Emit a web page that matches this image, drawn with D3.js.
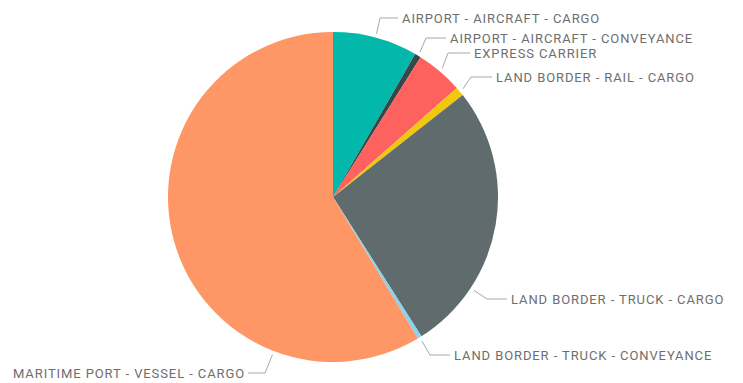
<!DOCTYPE html>
<html>
<head>
<meta charset="utf-8">
<script src="https://cdn.jsdelivr.net/npm/d3@7"></script>
<style>
  html, body { margin: 0; padding: 0; background: #fff; }
  svg { display: block; }
  .lbl { font-family: Roboto, "Noto Sans", sans-serif; font-size: 13px; letter-spacing: 0.9px; fill: #6e6e6e; }
</style>
</head>
<body>
<svg id="chart" width="743" height="383"></svg>
<script>
// Share of entries by port / conveyance type
const categories = [
  "AIRPORT - AIRCRAFT - CARGO",
  "AIRPORT - AIRCRAFT - CONVEYANCE",
  "EXPRESS CARRIER",
  "LAND BORDER - RAIL - CARGO",
  "LAND BORDER - TRUCK - CARGO",
  "LAND BORDER - TRUCK - CONVEYANCE",
  "MARITIME PORT - VESSEL - CARGO"
];
const values = [8.3, 0.6, 4.6, 0.9, 26.6, 0.4, 58.6];
const colors = ["#01B8AA", "#374649", "#FD625E", "#F2C80F", "#5F6B6D", "#8AD4EB", "#FE9666"];

// Label placement: leader anchor angle (deg, null = slice middle), elbow, text anchor
const labelLayout = [
  { angle: null,  elbow: [380, 18],  text: [402, 23],  side: "right" },
  { angle: null,  elbow: [426, 38],  text: [450, 43],  side: "right" },
  { angle: null,  elbow: [448, 53],  text: [474, 58],  side: "right" },
  { angle: null,  elbow: [471, 77],  text: [496, 82],  side: "right" },
  { angle: 123.5, elbow: [487, 299], text: [511, 304], side: "right" },
  { angle: null,  elbow: [430, 355], text: [454, 360], side: "right" },
  { angle: 201,   elbow: [265, 373], text: [13, 378],  side: "left" }
];

const svg = d3.select("#chart");
const cx = 333, cy = 197, radius = 165;

const pie = d3.pie().sort(null).value(d => d.value);
const data = pie(categories.map((c, i) => ({ name: c, value: values[i], color: colors[i] })));
const arc = d3.arc().innerRadius(0).outerRadius(radius);

const g = svg.append("g").attr("transform", `translate(${cx},${cy})`);
g.selectAll("path.slice")
  .data(data)
  .join("path")
  .attr("class", "slice")
  .attr("d", arc)
  .attr("fill", d => d.data.color);

// Leader lines and labels
const labels = svg.append("g");
data.forEach((d, i) => {
  const L = labelLayout[i];
  const a = L.angle == null ? (d.startAngle + d.endAngle) / 2 : L.angle * Math.PI / 180;
  const r0 = radius + 4;
  const p0 = [cx + r0 * Math.sin(a), cy - r0 * Math.cos(a)];
  let pts;
  if (L.side === "right") {
    pts = [p0, L.elbow, [L.text[0] - 4, L.elbow[1]]];
  } else {
    pts = [p0, L.elbow, [L.elbow[0] - 17, L.elbow[1]]];
  }
  labels.append("path")
    .attr("d", d3.line()(pts))
    .attr("fill", "none")
    .attr("stroke", "#a8a8a8")
    .attr("stroke-width", 1);
  labels.append("text")
    .attr("class", "lbl")
    .attr("x", L.text[0])
    .attr("y", L.text[1])
    .text(d.data.name);
});
</script>
</body>
</html>
